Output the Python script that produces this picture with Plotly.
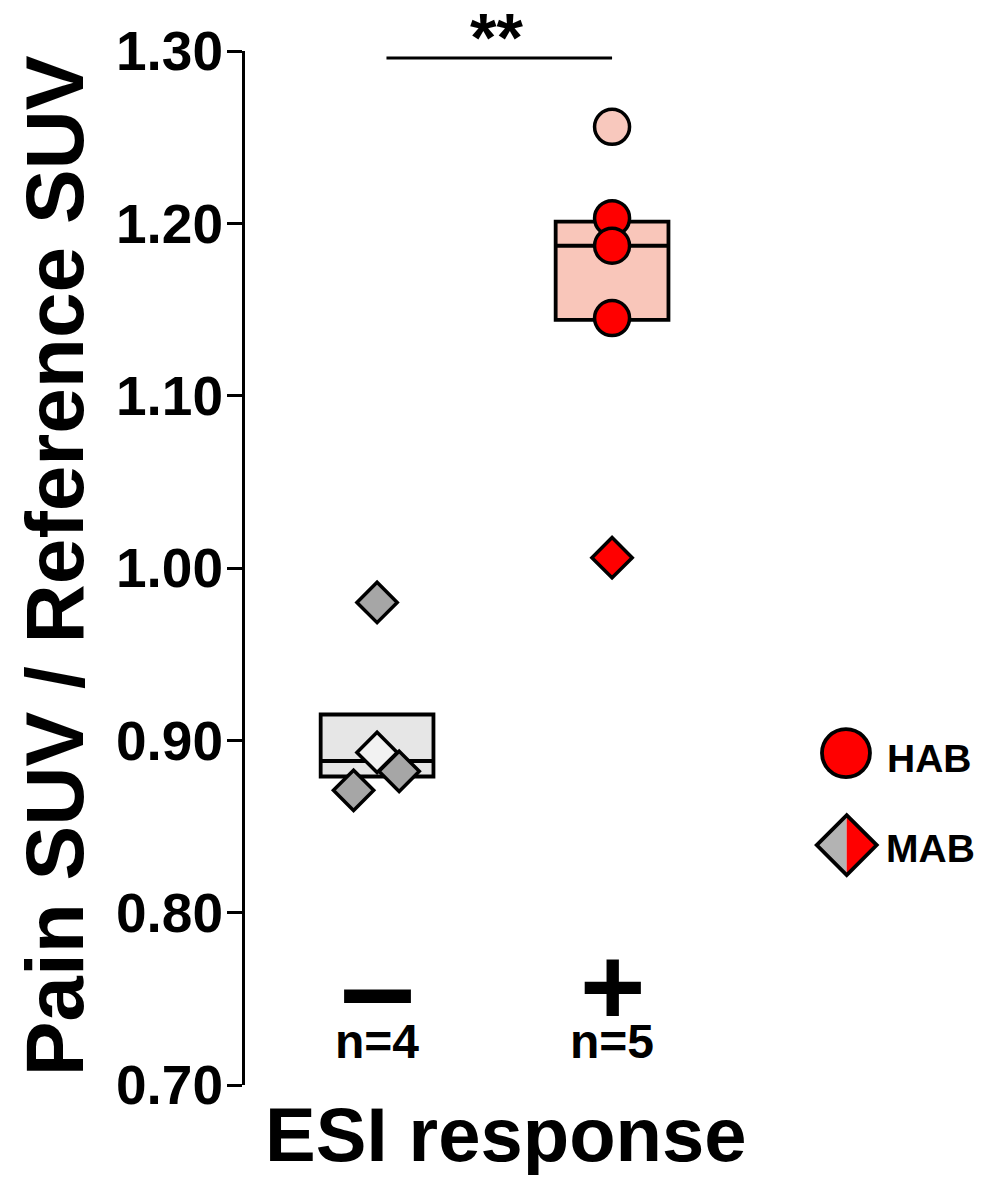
import plotly.graph_objects as go

# ---------------- data ----------------
group_labels = ["–", "+"]
group_n = ["n=4", "n=5"]
group_x = [0, 1]

# ESI-negative group (all MAB diamonds)
neg_values = [0.980, 0.893, 0.871, 0.882]
neg_jitter = [0.0, 0.0, -0.10, 0.094]
neg_symbols = ["diamond", "diamond", "diamond", "diamond"]
neg_colors = ["#a6a6a6", "#f2f2f2", "#a6a6a6", "#a6a6a6"]

# ESI-positive group
pos_values = [1.256, 1.203, 1.187, 1.145, 1.006]
pos_jitter = [0.0, 0.0, 0.0, 0.0, 0.0]
pos_symbols = ["circle", "circle", "circle", "circle", "diamond"]
pos_colors = ["#f8c8bd", "#ff0000", "#ff0000", "#ff0000", "#ff0000"]

# box statistics (q1, median, q3)
box_q1 = [0.879, 1.144]
box_median = [0.888, 1.187]
box_q3 = [0.915, 1.201]
box_fill = ["#e6e6e6", "#f9c6ba"]

sig_label = "**"
sig_y = 1.296

y_ticks = [0.70, 0.80, 0.90, 1.00, 1.10, 1.20, 1.30]
legend_labels = ["HAB", "MAB"]

FONT = "Liberation Sans, Arial, Helvetica, sans-serif"

fig = go.Figure()

for i in range(2):
    fig.add_trace(go.Box(
        x=[group_x[i]], q1=[box_q1[i]], median=[box_median[i]], q3=[box_q3[i]],
        lowerfence=[box_q1[i]], upperfence=[box_q3[i]],
        width=0.48, whiskerwidth=0, boxpoints=False,
        fillcolor=box_fill[i], line=dict(color="black", width=3.8),
        showlegend=False, hoverinfo="skip"))


def sizes(symbols):
    return [31 if s == "diamond" else 35 for s in symbols]


fig.add_trace(go.Scatter(
    x=[group_x[0] + j for j in neg_jitter], y=neg_values, mode="markers",
    marker=dict(symbol=neg_symbols, color=neg_colors, size=sizes(neg_symbols),
                opacity=1, line=dict(color="black", width=3.5)),
    cliponaxis=False, showlegend=False))

fig.add_trace(go.Scatter(
    x=[group_x[1] + j for j in pos_jitter], y=pos_values, mode="markers",
    marker=dict(symbol=pos_symbols, color=pos_colors, size=sizes(pos_symbols),
                opacity=1, line=dict(color="black", width=3.5)),
    cliponaxis=False, showlegend=False))

shapes = []
# significance bar
shapes.append(dict(type="line", xref="x", yref="y", x0=0.04, x1=1.0, y0=sig_y, y1=sig_y,
                   line=dict(color="black", width=3)))
# legend glyphs
LX_C, LY_C = 0.821, 0.321
LX_D, LY_D = 0.822, 0.232
shapes.append(dict(type="circle", xref="paper", yref="paper", xsizemode="pixel", ysizemode="pixel",
                   xanchor=LX_C, yanchor=LY_C, x0=-24, x1=24, y0=-24, y1=24,
                   fillcolor="#ff0000", line=dict(color="black", width=3.8)))
shapes.append(dict(type="path", xref="paper", yref="paper", xsizemode="pixel", ysizemode="pixel",
                   xanchor=LX_D, yanchor=LY_D, path="M -30 0 L 0 30 L 0 -30 Z",
                   fillcolor="#b3b3b3", line=dict(width=0)))
shapes.append(dict(type="path", xref="paper", yref="paper", xsizemode="pixel", ysizemode="pixel",
                   xanchor=LX_D, yanchor=LY_D, path="M 30 0 L 0 30 L 0 -30 Z",
                   fillcolor="#ff0000", line=dict(width=0)))
shapes.append(dict(type="path", xref="paper", yref="paper", xsizemode="pixel", ysizemode="pixel",
                   xanchor=LX_D, yanchor=LY_D, path="M -30 0 L 0 30 L 30 0 L 0 -30 Z",
                   line=dict(color="black", width=3.8)))

ann = []
ann.append(dict(text=sig_label, x=0.51, y=1.052, xref="x", yref="paper", showarrow=False,
                font=dict(family=FONT, size=68, color="black", weight="bold")))
sym_sizes = [135, 112]
for i in range(2):
    ann.append(dict(text=group_labels[i], x=group_x[i], y=0.757, xref="x", yref="y",
                    showarrow=False, yanchor="middle",
                    font=dict(family=FONT, size=sym_sizes[i], color="black", weight="bold")))
    ann.append(dict(text=group_n[i], x=group_x[i], y=0.725, xref="x", yref="y",
                    showarrow=False, yanchor="middle",
                    font=dict(family=FONT, size=48, color="black", weight="bold")))
ann.append(dict(text="ESI response", x=0.357, y=-0.048, xref="paper", yref="paper",
                showarrow=False, xanchor="center", yanchor="middle",
                font=dict(family=FONT, size=76, color="black", weight="bold")))
ann.append(dict(text="Pain SUV / Reference SUV", x=-0.259, y=0.502, xref="paper", yref="paper",
                showarrow=False, textangle=-90, xanchor="center", yanchor="middle",
                font=dict(family=FONT, size=82, color="black", weight="bold")))
ann.append(dict(text=legend_labels[0], x=0.874, y=0.316, xref="paper", yref="paper",
                showarrow=False, xanchor="left", yanchor="middle",
                font=dict(family=FONT, size=39, color="black", weight="bold")))
ann.append(dict(text=legend_labels[1], x=0.873, y=0.229, xref="paper", yref="paper",
                showarrow=False, xanchor="left", yanchor="middle",
                font=dict(family=FONT, size=39, color="black", weight="bold")))

fig.update_layout(
    width=969, height=1167,
    margin=dict(l=237, r=0, t=43, b=90),
    paper_bgcolor="white", plot_bgcolor="white",
    shapes=shapes, annotations=ann,
    xaxis=dict(range=[-0.562, 2.553], visible=False, showgrid=False, zeroline=False),
    yaxis=dict(range=[0.70, 1.30], tickvals=y_ticks, tickformat=".2f",
               showline=True, linecolor="black", linewidth=3,
               ticks="outside", ticklen=15, tickwidth=3, tickcolor="black",
               showgrid=False, zeroline=False,
               tickfont=dict(family=FONT, size=55, color="black", weight="bold")),
)
try:
    fig.update_yaxes(ticklabelstandoff=-7)
except Exception:
    pass

fig.write_html("out.html")
